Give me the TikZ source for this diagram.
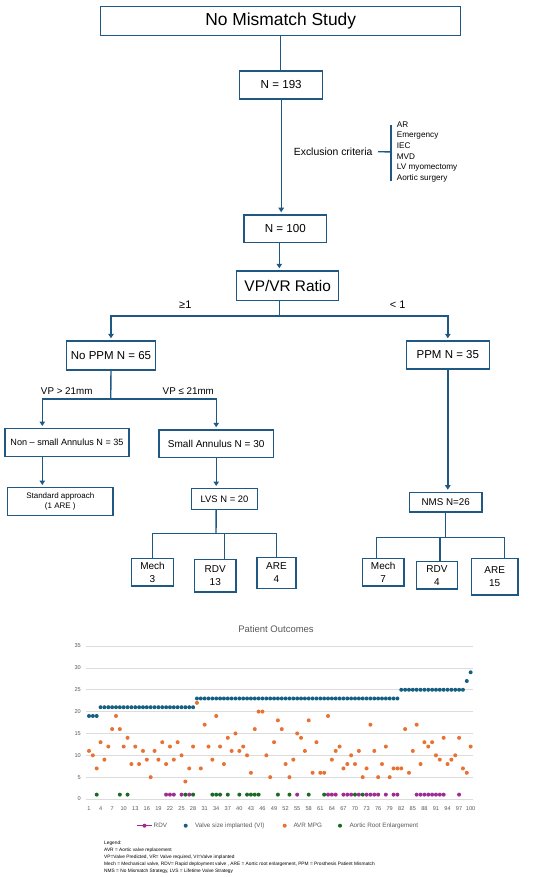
\documentclass[tikz,border=0pt]{standalone}
\usepackage{fontspec}
\setmainfont{Liberation Sans}
\usepackage{tikz}
\usetikzlibrary{
  arrows.meta,
  positioning
}
\definecolor{FlowBlue}{RGB}{31, 88, 130}
\definecolor{ChartBlue}{RGB}{21, 96, 130}
\definecolor{ChartOrange}{RGB}{233, 113, 50}
\definecolor{ChartGreen}{RGB}{25, 107, 36}
\definecolor{ChartPurple}{RGB}{160, 43, 147}
\definecolor{GridGray}{RGB}{220, 220, 220}
\definecolor{LabelGray}{RGB}{89, 89, 89}
\tikzset{
    box/.style={rectangle, draw=FlowBlue, line width=1.4pt, inner sep=0pt, align=center, text=black},
    leaf/.style={box, font=\fontsize{10}{13.3}\selectfont},
    link/.style={draw=FlowBlue, line width=1.4pt},
    arrow/.style={link, -{Triangle[length=4.5pt, width=5.5pt]}, shorten >=2pt},
    ticklabel/.style={font=\fontsize{5.6}{6}\selectfont, text=LabelGray, inner sep=1pt},
    legendtext/.style={anchor=west, font=\fontsize{6.3}{7}\selectfont, text=LabelGray, inner sep=0pt}
}

\begin{document}
\begin{tikzpicture}[x=1pt, y=-1pt]
    \fill[white] (0,0) rectangle (550,877);
    \useasboundingbox (0,0) rectangle (550,877);

    % flow chart boxes
    \node[box, minimum width=360pt, minimum height=28.6pt, font=\fontsize{17.4}{20}\selectfont] (study) at (280.7,21) {No Mismatch Study};
    \node[box, minimum width=83pt, minimum height=28pt, font=\fontsize{11.6}{14}\selectfont] (n193) at (281.2,85) {N = 193};
    \node[box, minimum width=82.7pt, minimum height=27.7pt, font=\fontsize{11.6}{14}\selectfont] (n100) at (285.3,228.8) {N = 100};
    \node[box, minimum width=102pt, minimum height=29.7pt, font=\fontsize{15.4}{18}\selectfont] (ratio) at (287.7,285.8) {VP/VR Ratio};
    \node[box, minimum width=89.4pt, minimum height=29pt, font=\fontsize{11.5}{14}\selectfont] (noppm) at (111,355.5) {No PPM N = 65};
    \node[box, minimum width=83pt, minimum height=28pt, font=\fontsize{11.5}{14}\selectfont] (ppm) at (447.8,355) {PPM N = 35};
    \node[box, minimum width=124pt, minimum height=28pt, font=\fontsize{9.1}{11}\selectfont] (nonsmall) at (67,442.7) {Non -- small Annulus N = 35};
    \node[box, minimum width=114.3pt, minimum height=27.7pt, font=\fontsize{10}{12}\selectfont] (small) at (216.2,443.8) {Small Annulus N = 30};
    \node[box, minimum width=105.3pt, minimum height=28pt, font=\fontsize{8}{10.3}\selectfont] (standard) at (60.3,501.7) {Standard approach\\(1 ARE )};
    \node[box, minimum width=65.6pt, minimum height=20.6pt, font=\fontsize{9.4}{11}\selectfont] (lvs) at (224.5,499) {LVS N = 20};
    \node[box, minimum width=72.7pt, minimum height=19.7pt, font=\fontsize{9.8}{11}\selectfont] (nms) at (445.7,502.2) {NMS N=26};
    \node[leaf, minimum width=41.6pt, minimum height=27.7pt] (mechL) at (152.5,572.2) {Mech\\3};
    \node[leaf, minimum width=41.3pt, minimum height=32.7pt] (rdvL) at (215.3,575.7) {RDV\\13};
    \node[leaf, minimum width=39pt, minimum height=31pt] (areL) at (276.5,572.8) {ARE\\4};
    \node[leaf, minimum width=41.7pt, minimum height=27.7pt] (mechR) at (383.2,572.2) {Mech\\7};
    \node[leaf, minimum width=40.6pt, minimum height=27.3pt] (rdvR) at (437,575.3) {RDV\\4};
    \node[leaf, minimum width=46.7pt, minimum height=36.3pt] (areR) at (494.7,576.8) {ARE\\15};

    % branch labels
    \node[font=\fontsize{11}{13}\selectfont] (geq) at (185.3,304.3) {≥1};
    \node[font=\fontsize{11}{13}\selectfont] (less) at (397.7,304.3) {< 1};
    \node[font=\fontsize{9.8}{12}\selectfont] (vpgt) at (66.7,390.7) {VP > 21mm};
    \node[font=\fontsize{9.8}{12}\selectfont] (vple) at (188.3,390.7) {VP ≤ 21mm};

    % exclusion criteria
    \node[font=\fontsize{10.4}{12}\selectfont] (excl) at (333.2,151.7) {Exclusion criteria};
    \node[anchor=west, align=left, inner sep=0pt, font=\fontsize{8.2}{10.7}\selectfont] (exlist) at (396.7,151.9) {AR\\Emergency\\IEC\\MVD\\LV myomectomy\\Aortic surgery};
    \coordinate (brk) at (391,151.9);
    \coordinate (brkT) at (391,125);
    \coordinate (brkB) at (391,181);
    \draw[link] ([xshift=2pt]excl.east) -- (brk);
    \draw[link] (brkT) -- (brkB);

    % connectors
    \draw[link] (study.south) -- (study.south |- n193.north);
    \draw[arrow] (n193.south) -- (n193.south |- n100.north);
    \coordinate (n100out) at ([xshift=-6pt]n100.south);
    \draw[arrow] (n100out) -- (n100out |- ratio.north);
    \coordinate (splitTop) at (279.3,316);
    \draw[link] (ratio.south -| splitTop) -- (splitTop);
    \draw[arrow] (splitTop) -| (noppm.north);
    \draw[arrow] (splitTop) -| (ppm.north);

    \coordinate (splitMid) at (110.7,399);
    \coordinate (leftDrop) at (42.3,399);
    \draw[link] (noppm.south) -- (splitMid);
    \draw[arrow] (splitMid) -- (leftDrop) -- (leftDrop |- nonsmall.north);
    \draw[arrow] (splitMid) -| (small.north);
    \draw[arrow] (leftDrop |- nonsmall.south) -- (leftDrop |- standard.north);
    \draw[arrow] (small.south) -- (small.south |- lvs.north);

    \coordinate (busL) at (216,533.3);
    \draw[link] (small.south |- lvs.south) -- (busL);
    \draw[link] (mechL.north) -- (mechL.north |- busL) -- (areL.north |- busL) -- (areL.north);
    \draw[link] (lvs.south |- busL) -- (lvs.south |- rdvL.north);

    \draw[arrow] (ppm.south) -- (ppm.south |- nms.north);
    \coordinate (busR) at (446.7,537.3);
    \coordinate (legMechR) at ([xshift=-6.5pt]mechR.north);
    \coordinate (legRdvR) at ([xshift=3pt]rdvR.north);
    \coordinate (legAreR) at ([xshift=10pt]areR.north);
    \draw[link] (nms.south) -- (nms.south |- busR);
    \draw[link] (legMechR) -- (legMechR |- busR) -- (legAreR |- busR) -- (legAreR);
    \draw[link] (legRdvR |- busR) -- (legRdvR);

    % patient outcomes chart
    \node[font=\fontsize{9.5}{11}\selectfont, text=LabelGray] (charttitle) at (276,629) {Patient Outcomes};
    \foreach \v in {0,5,...,35} {
        \draw[GridGray, line width=0.6pt] (86,{799-\v*4.37}) -- (473,{799-\v*4.37});
        \node[ticklabel, anchor=east] (ytick\v) at (82,{799-\v*4.37}) {\v};
    }
    \foreach \i in {1,4,...,100}
        \node[ticklabel] (xtick\i) at ({89+(\i-1)*3.855},808.7) {\i};

    % valve size implanted
    \foreach \a/\b/\v in {1/3/19, 4/28/21, 29/81/23, 82/98/25, 99/99/27, 100/100/29}
        \foreach \i in {\a,...,\b}
            \fill[ChartBlue] ({89+(\i-1)*3.855},{799-\v*4.37}) circle (2pt);
    % AVR MPG
    \foreach \v [count=\i] in {11,10,7,13,9,12,16,19,16,12,
                               14,8,12,8,11,9,5,11,9,13,
                               8,12,9,13,10,4,7,12,22,7,
                               17,12,9,19,12,8,14,11,15,11,
                               12,10,6,16,20,20,10,5,13,18,
                               16,8,5,9,15,14,11,18,6,13,
                               6,6,19,9,11,12,7,8,10,8,
                               11,5,7,17,11,5,8,12,5,7,
                               7,7,16,6,11,17,8,13,12,13,
                               10,9,14,8,9,10,14,7,6,12}
        \fill[ChartOrange] ({89+(\i-1)*3.855},{799-\v*4.37}) circle (2pt);
    % RDV
    \foreach \i in {21,22,23,25,27,55,63,64,65,67,68,69,71,73,74,75,76,78,80,81,86,87,88,89,90,91,92,93,97}
        \fill[ChartPurple] ({89+(\i-1)*3.855},{799-4.37}) circle (2pt);
    % aortic root enlargement
    \foreach \i in {3,9,11,26,28,33,34,35,37,40,42,43,44,45,50,53,58,62,70,72}
        \fill[ChartGreen] ({89+(\i-1)*3.855},{799-4.37}) circle (2pt);

    % chart legend
    \coordinate (legRDV) at (144.5,825.7);
    \draw[ChartPurple, line width=1.4pt] ([xshift=-7.8pt]legRDV) -- ([xshift=7.8pt]legRDV);
    \fill[ChartPurple] (legRDV) circle (2pt);
    \node[legendtext] (legRDVtext) at (153.5,825.7) {RDV};
    \fill[ChartBlue] (185.7,825.7) circle (2pt);
    \node[legendtext] (legVItext) at (195,825.7) {Valve size implanted (VI)};
    \fill[ChartOrange] (284.7,825.7) circle (2pt);
    \node[legendtext] (legAVRtext) at (293.3,825.7) {AVR MPG};
    \fill[ChartGreen] (340,825.7) circle (2pt);
    \node[legendtext] (legAREtext) at (349.3,825.7) {Aortic Root Enlargement};

    % abbreviations
    \node[anchor=north west, align=left, inner sep=0pt, font=\fontsize{4.8}{6.9}\selectfont] (notes) at (104,841) {Legend:\\
        AVR = Aortic valve replacement\\
        VP=Valve Predicted, VR= Valve required, VI=Valve implanted\\
        Mech = Mechanical valve, RDV= Rapid deployment valve , ARE = Aortic root enlargement, PPM = Prosthesis Patient Mismatch\\
        NMS = No Mismatch Strategy, LVS = Lifetime Valve Strategy};
\end{tikzpicture}
\end{document}
